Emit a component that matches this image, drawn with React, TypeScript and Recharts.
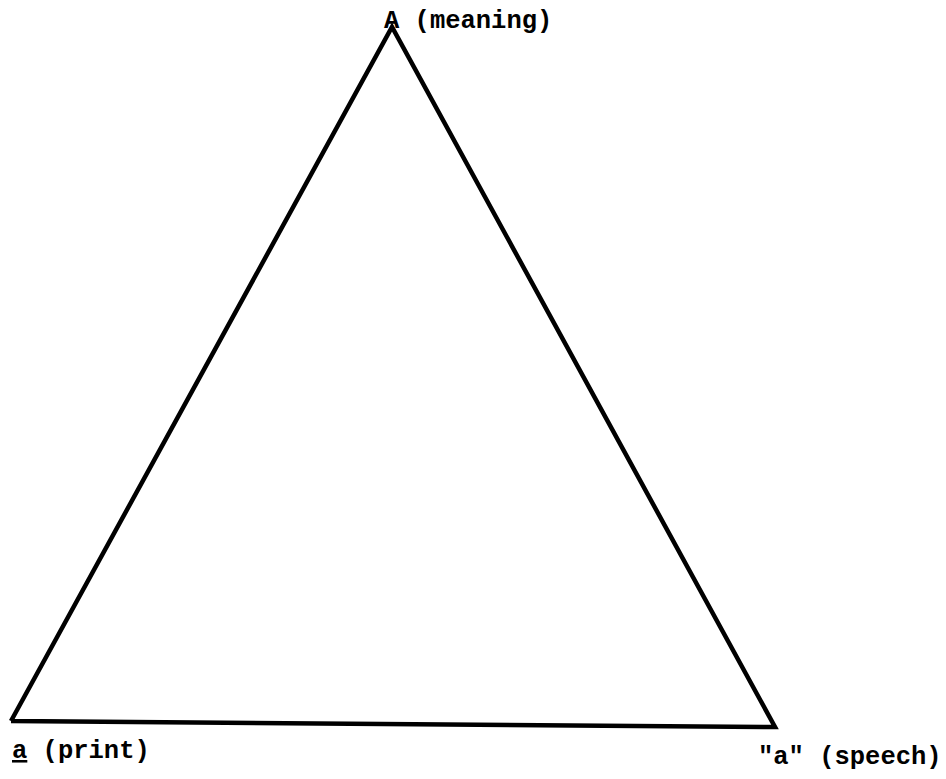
import { ComposedChart, Line, Scatter, XAxis, YAxis } from 'recharts';

// triangle corners (diagram units, y measured downward from the top)
const corners = [
  { name: 'print', x: 11, y: 721 },
  { name: 'meaning', x: 392, y: 27 },
  { name: 'speech', x: 775, y: 727 },
  { name: 'print', x: 11, y: 721 }
];

const labels = [
  { id: 'meaning', x: 384, y: 28 },
  { id: 'print', x: 12, y: 758 },
  { id: 'speech', x: 758, y: 764 }
];

const textStyle = {
  fontFamily: '"Liberation Mono", monospace',
  fontWeight: 700,
  fontSize: 25.5,
  fill: '#000'
};

function LabelText(props: any) {
  const { cx, cy, payload } = props;
  if (payload.id === 'meaning') {
    return (
      <text x={cx} y={cy} style={textStyle}>
        A (meaning)
      </text>
    );
  }
  if (payload.id === 'print') {
    return (
      <text x={cx} y={cy} style={textStyle}>
        <tspan textDecoration='underline'>a</tspan> (print)
      </text>
    );
  }
  return (
    <text x={cx} y={cy} style={textStyle}>
      "a" (speech)
    </text>
  );
}

export default function App() {
  return (
    <div style={{ position: 'absolute', left: 0, top: 0, background: '#fff' }}>
      <ComposedChart width={946} height={779} margin={{ top: 0, right: 0, bottom: 0, left: 0 }}>
        <XAxis type='number' dataKey='x' domain={[0, 946]} hide />
        <YAxis type='number' dataKey='y' domain={[0, 779]} reversed hide />
        <Line
          data={corners}
          dataKey='y'
          type='linear'
          stroke='#000'
          strokeWidth={4.5}
          strokeLinejoin='miter'
          dot={false}
          activeDot={false}
          isAnimationActive={false}
        />
        <Scatter data={labels} dataKey='y' shape={<LabelText />} isAnimationActive={false} />
      </ComposedChart>
    </div>
  );
}
